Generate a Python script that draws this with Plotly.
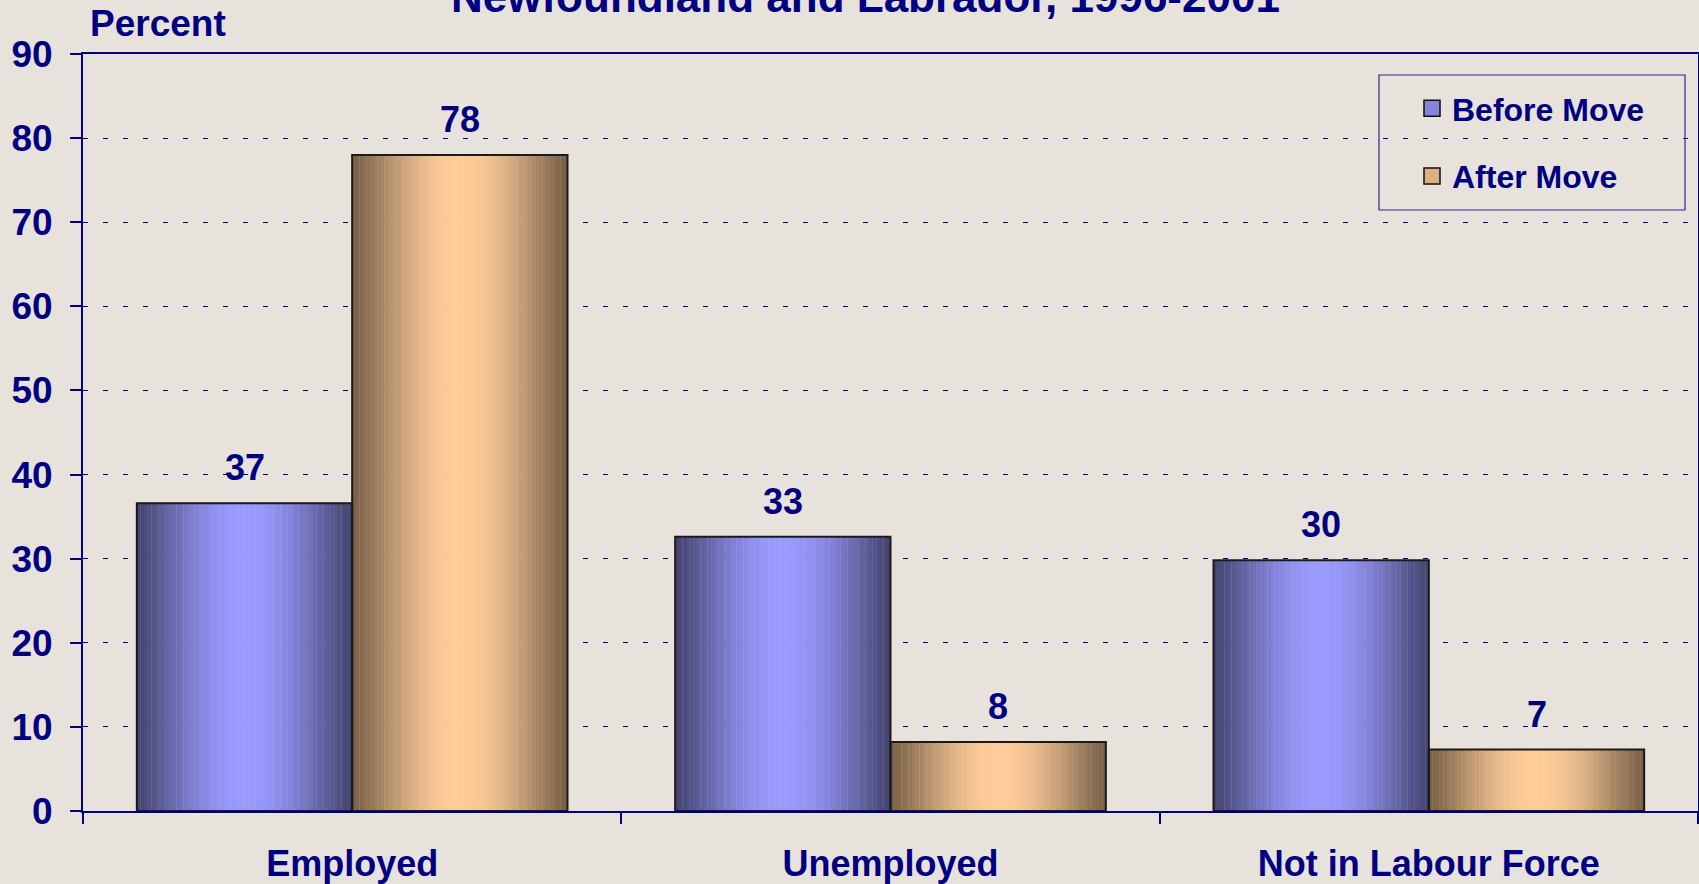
import math
import plotly.graph_objects as go

# ---- data ----
categories = ["Employed", "Unemployed", "Not in Labour Force"]
before_move = [36.6, 32.6, 29.8]
after_move = [78.0, 8.2, 7.3]
series_names = ["Before Move", "After Move"]
y_ticks = [0, 10, 20, 30, 40, 50, 60, 70, 80, 90]
title_text = "Newfoundland and Labrador, 1996-2001"
y_axis_label = "Percent"

# ---- style ----
W, H = 1699, 884
ML, MR, MT, MB = 83, 1, 54, 73
PW, PH = W - ML - MR, H - MT - MB
BG = "#E8E2DC"
NAVY = "#000080"
FONT = "Liberation Sans, Arial, sans-serif"
BAR_W = 0.4
N_STRIPS = 60

blue_dark, blue_light = (68, 68, 112), (153, 153, 255)
orange_dark, orange_light = (120, 96, 72), (255, 204, 153)


def mix(dark, light, s):
    return "rgb(%d,%d,%d)" % tuple(round(d + (l - d) * s) for d, l in zip(dark, light))


def px_x(px):
    return (px - ML) / PW


def px_y(px):
    return (H - MB - px) / PH


fig = go.Figure()

series = [(before_move, -BAR_W, blue_dark, blue_light),
          (after_move, 0.0, orange_dark, orange_light)]

# gradient strips for each bar series
for values, base_off, dark, light in series:
    sw = BAR_W / N_STRIPS
    for i in range(N_STRIPS):
        t = (i + 0.5) / N_STRIPS
        s = math.sin(math.pi * t) ** 1.2
        fig.add_trace(go.Bar(
            x=categories, y=values,
            offset=base_off + i * sw, width=sw * 1.08,
            marker=dict(color=mix(dark, light, s), line=dict(width=0)),
            showlegend=False, hoverinfo="skip",
        ))

# outlines
for values, base_off, dark, light in series:
    fig.add_trace(go.Bar(
        x=categories, y=values, offset=base_off, width=BAR_W,
        marker=dict(color="rgba(0,0,0,0)", line=dict(color="#1a1a1a", width=2)),
        showlegend=False, hoverinfo="skip",
    ))

# legend entries
for k, (name, (values, base_off, dark, light)) in enumerate(zip(series_names, series)):
    fig.add_trace(go.Scatter(
        x=[None], y=[None], mode="markers", name=name, legendgroup=name,
        marker=dict(symbol="square", size=16, color=mix(dark, light, 0.75),
                    line=dict(color="#111111", width=1.5)),
    ))

# value labels
annotations = []
for values, sign in ((before_move, -1), (after_move, 1)):
    for i, v in enumerate(values):
        annotations.append(dict(
            x=i + sign * BAR_W / 2, y=v, xref="x", yref="y",
            text="%d" % round(v), showarrow=False, yanchor="bottom", yshift=13,
            font=dict(family=FONT, size=36, color=NAVY, weight="bold"),
        ))

annotations.append(dict(
    x=px_x(865), y=px_y(-3), xref="paper", yref="paper", text=title_text,
    showarrow=False, xanchor="center", yanchor="middle",
    font=dict(family=FONT, size=44, color=NAVY, weight="bold"),
))
annotations.append(dict(
    x=px_x(88), y=px_y(23), xref="paper", yref="paper", text=y_axis_label,
    showarrow=False, xanchor="left", yanchor="middle",
    font=dict(family=FONT, size=37, color=NAVY, weight="bold"),
))

fig.update_layout(
    width=W, height=H, autosize=False,
    margin=dict(l=ML, r=MR, t=MT, b=MB, pad=0, autoexpand=False),
    paper_bgcolor=BG, plot_bgcolor=BG,
    barmode="overlay",
    bargap=0.2,
    font=dict(family=FONT, color=NAVY),
    annotations=annotations,
    shapes=[dict(type="rect", xref="paper", yref="paper",
                 x0=px_x(1379), x1=px_x(1685), y0=px_y(210), y1=px_y(75),
                 line=dict(color="#2a2a8a", width=1.2), fillcolor="rgba(0,0,0,0)")],
    legend=dict(
        x=px_x(1412), y=px_y(81), xanchor="left", yanchor="top",
        bgcolor="rgba(0,0,0,0)", borderwidth=0,
        font=dict(family=FONT, size=32, color=NAVY, weight="bold"),
        tracegroupgap=23,
    ),
    xaxis=dict(
        type="category", range=[-0.5, 2.5], automargin=False,
        showline=True, linecolor=NAVY, linewidth=2, mirror=True,
        ticks="outside", tickson="boundaries", ticklen=11, tickcolor=NAVY, tickwidth=1.5,
        tickfont=dict(family=FONT, size=36, color=NAVY, weight="bold"),
        ticklabelstandoff=20,
        showgrid=False, zeroline=False,
    ),
    yaxis=dict(
        range=[0, 90], tickvals=y_ticks, automargin=False,
        showline=True, linecolor=NAVY, linewidth=2, mirror=True,
        ticks="outside", ticklen=11, tickcolor=NAVY, tickwidth=1.5,
        tickfont=dict(family=FONT, size=37, color=NAVY, weight="bold"),
        ticklabelstandoff=10,
        showgrid=True, gridcolor=NAVY, gridwidth=1.2, griddash="5px,15px",
        zeroline=False,
    ),
)

fig.write_html("out.html", config={"displayModeBar": False},
               post_script="document.body.style.margin='0';document.body.style.overflow='hidden';")
